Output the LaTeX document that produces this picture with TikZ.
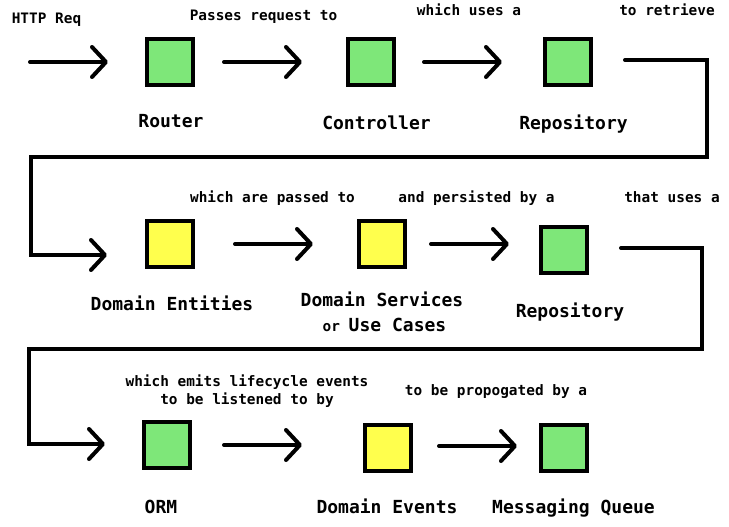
\documentclass[tikz,border=0pt]{standalone}
\usepackage{fontspec}
\setmonofont{DejaVu Sans Mono}
\usetikzlibrary{arrows.meta}
\definecolor{boxgreen}{RGB}{126,231,121}
\definecolor{boxyellow}{RGB}{255,255,77}
\tikzset{
  box/.style={draw=black, line width=4pt, minimum width=46pt, minimum height=46pt, inner sep=0pt},
  gbox/.style={box, fill=boxgreen},
  ybox/.style={box, fill=boxyellow},
  smalltxt/.style={font=\ttfamily\bfseries\fontsize{14.4}{17}\selectfont, inner sep=0pt, text height=10.5pt, text depth=0pt, align=center},
  bigtxt/.style={font=\ttfamily\bfseries\fontsize{18}{25}\selectfont, inner sep=0pt, text height=13pt, text depth=0pt, align=center},
  arr/.style={line width=4pt, line cap=round, line join=round, -{Straight Barb[length=14pt, width=30pt, round]}},
  conn/.style={line width=4pt, line cap=round, line join=miter, -{Straight Barb[length=14pt, width=30pt, round]}},
}
\begin{document}
\begin{tikzpicture}[x=1pt,y=-1pt]
\useasboundingbox (0,0) rectangle (729,527);
\fill[white] (0,0) rectangle (729,527);

% boxes
\node[gbox] (router) at (170,62) {};
\node[gbox] (controller) at (371,62) {};
\node[gbox] (repo1) at (568,62) {};
\node[ybox] (entities) at (170,244) {};
\node[ybox] (services) at (381.5,244) {};
\node[gbox] (repo2) at (564,250) {};
\node[gbox] (orm) at (167,445) {};
\node[ybox] (events) at (388,448) {};
\node[gbox] (queue) at (564,448) {};

% labels under boxes
\node[bigtxt] (lrouter) at (171,121) {Router};
\node[bigtxt] (lcontroller) at (376.5,123) {Controller};
\node[bigtxt] (lrepo1) at (573.5,123) {Repository};
\node[bigtxt] (lentities) at (172,304) {Domain Entities};
\node[bigtxt] (lservices) at (382,300) {Domain Services};
\node[bigtxt] (lservices2) at (384.5,325) {{\fontsize{14.4}{17}\selectfont or }Use Cases};
\node[bigtxt] (lrepo2) at (570,311) {Repository};
\node[bigtxt] (lorm) at (161,507) {ORM};
\node[bigtxt] (levents) at (387,507) {Domain Events};
\node[bigtxt] (lqueue) at (573.5,507) {Messaging Queue};

% small texts
\node[smalltxt] (t1) at (46.5,18) {HTTP Req};
\node[smalltxt] (t2) at (263.5,15) {Passes request to};
\node[smalltxt] (t3) at (469,10) {which uses a};
\node[smalltxt] (t4) at (667,10) {to retrieve};
\node[smalltxt] (t5) at (272.5,197) {which are passed to};
\node[smalltxt] (t6) at (476.5,197) {and persisted by a};
\node[smalltxt] (t7) at (672,197) {that uses a};
\node[smalltxt] (t8a) at (247,381) {which emits lifecycle events};
\node[smalltxt] (t8b) at (247,399) {to be listened to by};
\node[smalltxt] (t9) at (496,390) {to be propogated by a};

% arrow end coordinates
\coordinate (a0s) at (30,62);   \coordinate (a0e) at (108,62);
\coordinate (a1s) at (224,62);  \coordinate (a1e) at (302,62);
\coordinate (a2s) at (424,62);  \coordinate (a2e) at (502,62);
\coordinate (b1s) at (235,244); \coordinate (b1e) at (313,244);
\coordinate (b2s) at (431,244); \coordinate (b2e) at (509,244);
\coordinate (c1s) at (224,445); \coordinate (c1e) at (302,445);
\coordinate (c2s) at (439,446); \coordinate (c2e) at (517,446);
\coordinate (r1s) at (625,60);  \coordinate (r1e) at (107,255);
\coordinate (r2s) at (621,248); \coordinate (r2e) at (105,444);

\draw[arr] (a0s) -- (a0e);
\draw[arr] (a1s) -- (a1e);
\draw[arr] (a2s) -- (a2e);
\draw[arr] (b1s) -- (b1e);
\draw[arr] (b2s) -- (b2e);
\draw[arr] (c1s) -- (c1e);
\draw[arr] (c2s) -- (c2e);

% elbow connectors
\draw[conn] (r1s) -- (707,60) -- (707,157) -- (31,157) -- (31,255) -- (r1e);
\draw[conn] (r2s) -- (702,248) -- (702,349) -- (29,349) -- (29,444) -- (r2e);
\end{tikzpicture}
\end{document}
